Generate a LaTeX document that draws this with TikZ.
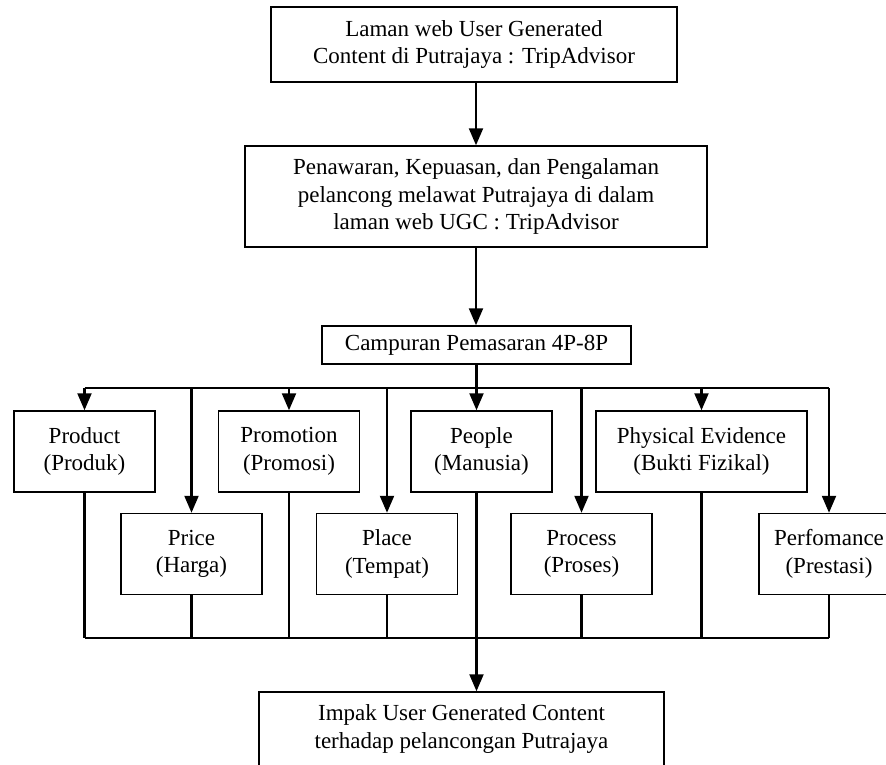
\documentclass[tikz,border=0pt]{standalone}
\usepackage{fontspec}
\setmainfont{Liberation Serif}
\usetikzlibrary{positioning,arrows.meta}

\begin{document}
\begin{tikzpicture}[x=1pt,y=-1pt,
  box/.style={draw,line width=1.5pt,align=center,inner sep=0pt,
    minimum width=141pt,minimum height=81pt,
    font=\fontsize{23}{27.5}\selectfont},
  link/.style={line width=2.2pt},
  arr/.style={link,-{Triangle[length=17pt,width=14pt]}}]
\useasboundingbox (0,0) rectangle (886,764);
% top of the chart
\node[box,minimum width=406pt,minimum height=75pt] (web) at (474,44.5)
  {Laman web User Generated\\Content di Putrajaya : TripAdvisor};
\node[box,minimum width=462pt,minimum height=101pt] (ugc) at (476,196.5)
  {Penawaran, Kepuasan, dan Pengalaman\\pelancong melawat Putrajaya di dalam\\laman web UGC : TripAdvisor};
\node[box,minimum width=309pt,minimum height=38pt] (mix) at (476.5,345)
  {Campuran Pemasaran 4P-8P};
% upper row
\node[box] (prod) at (84.5,451.5) {Product\\(Produk)};
\node[box] (promo) at (289,451.5) {Promotion\\(Promosi)};
\node[box] (ppl) at (481.5,451.5) {People\\(Manusia)};
\node[box,minimum width=211pt] (phys) at (701.5,451.5) {Physical Evidence\\(Bukti Fizikal)};
% lower row
\node[box] (price) at (191.5,554) {Price\\(Harga)};
\node[box] (place) at (387,554) {Place\\(Tempat)};
\node[box] (proc) at (581.5,554) {Process\\(Proses)};
\node[box,minimum width=140pt] (perf) at (829,554) {Perfomance\\(Prestasi)};
% bottom
\node[box,minimum width=405pt,minimum height=74pt] (impact) at (461.5,729)
  {Impak User Generated Content\\terhadap pelancongan Putrajaya};
\coordinate (topbus) at (0,388);
\coordinate (botbus) at (0,638);
\draw[arr] (ugc.north |- web.south) -- (ugc.north);
\draw[arr] (ugc.south) -- (ugc.south |- mix.north);
\draw[arr] (mix.south) -- (mix.south |- ppl.north);
\draw[link] (prod.north |- topbus) -- (perf.north |- topbus);
\foreach \b in {prod,price,promo,place,proc,phys,perf}
  \draw[arr] (\b.north |- topbus) -- (\b.north);
\foreach \b in {prod,price,promo,place,proc,phys,perf}
  \draw[link] (\b.south) -- (\b.south |- botbus);
\draw[link] (prod.south |- botbus) -- (perf.south |- botbus);
\draw[arr] (mix.south |- ppl.south) -- (mix.south |- impact.north);
\end{tikzpicture}
\end{document}
